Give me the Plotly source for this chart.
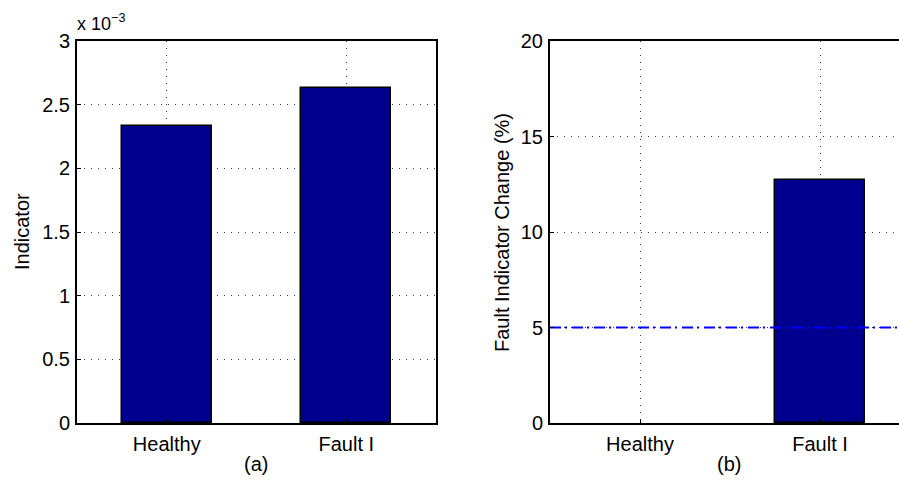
import plotly.graph_objects as go

categories = ["Healthy", "Fault I"]
indicator = [2.333e-3, 2.629e-3]
change_pct = [0.0, 12.7]
threshold = 5
yticks_a = [0, 0.5e-3, 1.0e-3, 1.5e-3, 2.0e-3, 2.5e-3, 3.0e-3]
yticklabels_a = ["0", "0.5", "1", "1.5", "2", "2.5", "3"]
yticks_b = [0, 5, 10, 15, 20]

W, H = 899, 480
xpos = list(range(1, len(categories) + 1))

def px_x(p):
    return p / W

def px_y(p):
    return 1 - p / H

FONT = "Liberation Sans, Arial, Helvetica, sans-serif"
FS = 20
BAR = "#00008F"
GRID = "#3a3a3a"

def outline(vals):
    return [0 if v == 0 else 1.5 for v in vals]

fig = go.Figure()
fig.add_trace(go.Bar(x=xpos, y=indicator, width=0.5,
                     marker=dict(color=BAR, line=dict(color="black", width=outline(indicator))),
                     xaxis="x", yaxis="y", showlegend=False))
fig.add_trace(go.Bar(x=xpos, y=change_pct, width=0.5,
                     marker=dict(color=BAR, line=dict(color="black", width=outline(change_pct))),
                     xaxis="x2", yaxis="y2", showlegend=False))
fig.add_trace(go.Scatter(x=[0.5, 2.5], y=[threshold, threshold], mode="lines",
                         line=dict(color="#0000FF", width=2, dash="11px,4px,2px,5px"),
                         xaxis="x2", yaxis="y2", showlegend=False))

common_x = dict(tickmode="array", tickvals=xpos, ticktext=categories, showgrid=True,
                gridcolor=GRID, griddash="1px,6px", gridwidth=1, showline=True, linecolor="black",
                linewidth=2, ticks="inside", ticklen=4, tickcolor="black", zeroline=False,
                automargin=False, ticklabelstandoff=2,
                tickfont=dict(family=FONT, size=FS, color="black"), fixedrange=True)
common_y = dict(showgrid=True, gridcolor=GRID, griddash="1px,6px", gridwidth=1, showline=True,
                linecolor="black", linewidth=2, ticks="inside", ticklen=4, tickcolor="black",
                zeroline=False, automargin=False, ticklabelstandoff=1,
                tickfont=dict(family=FONT, size=FS, color="black"), fixedrange=True)

y_dom = [px_y(423), px_y(41)]

fig.update_layout(
    width=W, height=H,
    margin=dict(l=0, r=0, t=0, b=0, autoexpand=False),
    paper_bgcolor="white", plot_bgcolor="white",
    bargap=0,
    xaxis=dict(common_x, domain=[px_x(77), px_x(436)], range=[0.5, 2.5], mirror=True, anchor="y"),
    yaxis=dict(common_y, domain=y_dom, range=[0, 3e-3], tickvals=yticks_a, ticktext=yticklabels_a,
               mirror=True, anchor="x"),
    xaxis2=dict(common_x, domain=[px_x(550), 1.0], range=[0.5, 0.5 + (899 - 550) / 180.0], mirror=True, anchor="y2"),
    yaxis2=dict(common_y, domain=y_dom, range=[0, 20], tickvals=yticks_b, mirror=False, anchor="x2"),
    font=dict(family=FONT, size=FS, color="black"),
)

def label(text, x, y, angle=0):
    return dict(text=text, x=px_x(x), y=px_y(y), xref="paper", yref="paper", showarrow=False,
                xanchor="center", yanchor="middle", textangle=angle,
                font=dict(family=FONT, size=FS, color="black"))

ann = [
    label("Indicator", 22, 232, -90),
    label("Fault Indicator Change (%)", 502, 232, -90),
    label("(a)", 256, 464),
    label("(b)", 729, 464),
    dict(text="x 10<sup>\u22123</sup>", x=px_x(75), y=px_y(36), xref="paper", yref="paper",
         xanchor="left", yanchor="bottom", showarrow=False,
         font=dict(family=FONT, size=18, color="black")),
]
fig.update_layout(annotations=ann)

fig.write_html("out.html", config={"displayModeBar": False})
